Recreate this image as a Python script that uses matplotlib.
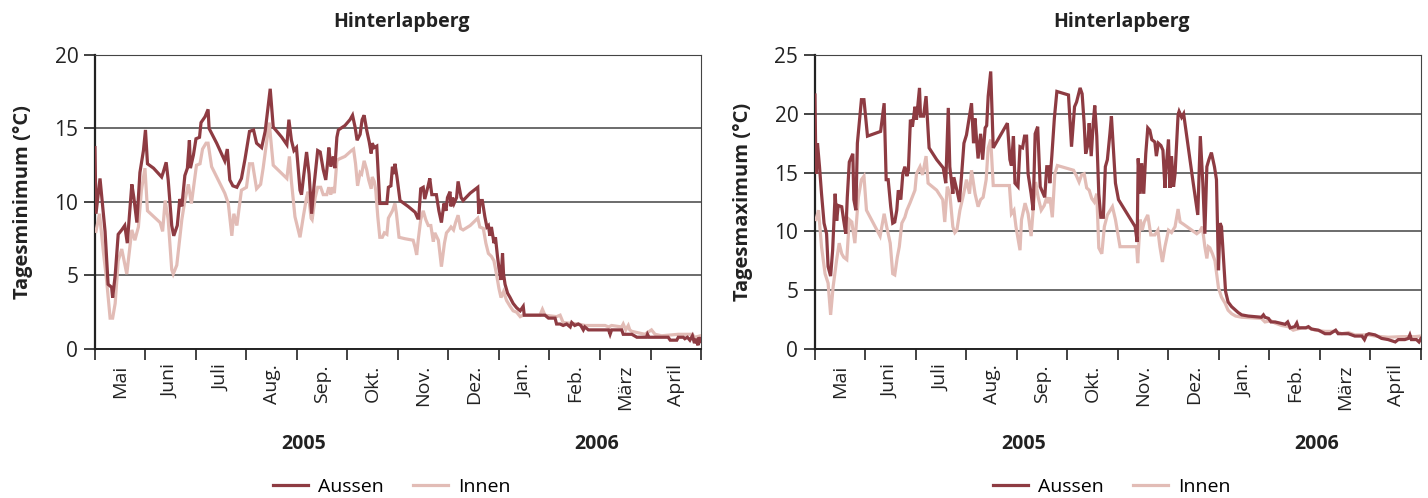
"""Daily minimum and maximum temperature, Hinterlapberg, May 2005 - April 2006."""

from __future__ import annotations

import matplotlib

matplotlib.use("Agg")
import matplotlib.pyplot as plt
from matplotlib.lines import Line2D

MONTH_LABELS = ["Mai", "Juni", "Juli", "Aug.", "Sep.", "Okt.", "Nov.", "Dez.",
                "Jan.", "Feb.", "März", "April"]
YEAR_LABELS = ["2005", "2006"]
SITE = "Hinterlapberg"
SERIES_NAMES = ["Aussen", "Innen"]

# (months since 1 May 2005, °C)
MIN_AUSSEN = [
    (0.00, 13.7), (0.02, 9.2), (0.10, 11.6), (0.20, 8.0), (0.26, 4.4), (0.33, 4.2),
    (0.35, 3.5), (0.40, 5.0), (0.46, 7.8), (0.53, 8.1), (0.59, 8.4), (0.64, 7.2),
    (0.73, 11.2), (0.77, 10.3), (0.83, 8.6), (0.89, 12.0), (0.96, 13.5), (1.00, 14.9),
    (1.04, 12.6), (1.16, 12.3), (1.32, 11.7), (1.35, 12.0), (1.41, 12.7), (1.45, 11.5),
    (1.52, 8.4), (1.56, 7.7), (1.63, 8.4), (1.68, 10.2), (1.72, 9.7), (1.78, 11.8),
    (1.83, 12.3), (1.87, 14.2), (1.89, 12.3), (1.95, 13.2), (2.00, 14.3), (2.07, 14.4),
    (2.10, 15.4), (2.18, 15.8), (2.24, 16.3), (2.26, 15.0), (2.41, 14.0), (2.57, 12.8),
    (2.62, 13.6), (2.67, 11.5), (2.73, 11.1), (2.81, 11.0), (2.90, 11.6), (2.97, 12.9),
    (3.06, 14.8), (3.14, 14.9), (3.20, 14.0), (3.30, 13.7), (3.37, 14.8), (3.47, 17.7),
    (3.53, 15.1), (3.70, 14.4), (3.80, 13.9), (3.84, 15.6), (3.89, 14.2), (3.94, 13.5),
    (3.99, 13.7), (4.06, 10.8), (4.09, 10.5), (4.13, 11.7), (4.19, 13.4), (4.24, 11.9),
    (4.29, 9.2), (4.34, 11.2), (4.41, 13.5), (4.46, 13.4), (4.52, 12.2), (4.57, 11.5),
    (4.61, 12.8), (4.63, 13.7), (4.67, 12.4), (4.72, 13.1), (4.75, 12.3), (4.79, 14.4),
    (4.82, 14.9), (4.95, 15.2), (5.05, 15.6), (5.10, 15.9), (5.15, 15.1), (5.19, 14.2),
    (5.25, 14.6), (5.29, 15.6), (5.33, 15.9), (5.38, 14.9), (5.43, 14.1), (5.47, 13.3),
    (5.49, 14.0), (5.53, 13.7), (5.58, 13.8), (5.61, 11.9), (5.64, 9.9), (5.78, 9.9),
    (5.81, 11.0), (5.86, 11.1), (5.89, 12.4), (5.92, 11.9), (5.94, 12.6), (5.98, 11.7),
    (6.04, 10.1), (6.20, 9.7), (6.34, 9.3), (6.39, 8.9), (6.41, 8.9), (6.45, 10.9),
    (6.50, 11.0), (6.53, 10.2), (6.59, 11.0), (6.63, 11.6), (6.67, 10.5), (6.72, 10.5),
    (6.76, 10.5), (6.81, 9.4), (6.86, 8.6), (6.91, 9.9), (6.95, 9.4), (6.98, 10.3),
    (7.03, 10.7), (7.05, 9.7), (7.08, 10.3), (7.11, 9.9), (7.16, 10.3), (7.19, 11.4),
    (7.25, 10.3), (7.29, 10.1), (7.43, 10.6), (7.58, 11.0), (7.60, 9.2), (7.63, 10.1),
    (7.67, 10.1), (7.72, 9.0), (7.76, 8.3), (7.79, 8.4), (7.82, 7.7), (7.85, 8.3),
    (7.90, 7.2), (7.93, 7.6), (7.97, 6.3), (8.00, 5.5), (8.04, 4.7), (8.07, 6.5),
    (8.09, 5.1), (8.12, 4.4), (8.17, 3.8), (8.22, 3.5), (8.28, 3.1), (8.35, 2.8),
    (8.42, 2.6), (8.48, 2.9), (8.50, 2.3), (8.55, 2.3), (8.91, 2.3), (8.98, 2.1),
    (9.11, 2.1), (9.14, 1.7), (9.21, 1.7), (9.27, 1.6), (9.34, 1.7), (9.41, 1.5),
    (9.44, 1.8), (9.50, 1.6), (9.57, 1.7), (9.62, 1.6), (9.67, 1.3), (9.70, 1.5),
    (9.77, 1.3), (10.17, 1.3), (10.20, 1.0), (10.23, 1.3), (10.43, 1.3), (10.46, 1.0),
    (10.63, 1.0), (10.73, 0.8), (10.92, 0.8), (10.94, 1.0), (10.97, 0.8), (11.35, 0.8),
    (11.39, 0.6), (11.52, 0.6), (11.55, 0.8), (11.65, 0.8), (11.68, 0.7), (11.73, 0.8),
    (11.78, 0.6), (11.83, 0.9), (11.87, 0.4), (11.90, 0.7), (11.94, 0.25), (11.96, 0.8),
    (11.99, 0.5),
]

MIN_INNEN = [
    (0.02, 8.0), (0.09, 9.2), (0.17, 6.5), (0.23, 4.7), (0.30, 2.1), (0.35, 2.1),
    (0.40, 3.1), (0.46, 6.0), (0.53, 6.8), (0.63, 5.1), (0.73, 8.1), (0.79, 7.4),
    (0.86, 8.3), (0.92, 10.8), (0.99, 12.3), (1.04, 9.4), (1.29, 8.6), (1.34, 8.0),
    (1.39, 10.1), (1.45, 8.8), (1.52, 5.4), (1.55, 5.1), (1.62, 5.7), (1.72, 8.8),
    (1.78, 10.1), (1.85, 11.2), (1.91, 9.9), (2.01, 12.5), (2.08, 12.6), (2.13, 13.6),
    (2.20, 14.0), (2.24, 14.0), (2.31, 12.4), (2.57, 10.6), (2.64, 9.9), (2.71, 7.7),
    (2.75, 9.2), (2.81, 8.4), (2.90, 10.8), (3.00, 11.0), (3.06, 12.6), (3.12, 12.6),
    (3.20, 10.9), (3.28, 11.2), (3.33, 12.3), (3.45, 15.4), (3.53, 12.5), (3.80, 11.6),
    (3.85, 13.1), (3.89, 11.4), (3.96, 9.0), (4.06, 7.6), (4.13, 9.1), (4.19, 10.3),
    (4.22, 10.7), (4.28, 8.9), (4.30, 8.8), (4.36, 10.3), (4.41, 11.0), (4.47, 11.0),
    (4.52, 10.5), (4.59, 10.5), (4.63, 11.0), (4.67, 10.5), (4.70, 11.0), (4.74, 10.6),
    (4.79, 12.8), (4.82, 12.9), (4.95, 13.1), (5.08, 13.5), (5.12, 13.6), (5.16, 12.6),
    (5.20, 11.1), (5.25, 12.0), (5.28, 11.9), (5.33, 12.8), (5.38, 12.2), (5.42, 11.5),
    (5.47, 10.9), (5.49, 11.7), (5.53, 11.4), (5.56, 10.8), (5.60, 9.0), (5.64, 7.6),
    (5.69, 7.6), (5.73, 7.9), (5.78, 7.8), (5.81, 8.9), (5.89, 9.4), (5.94, 9.9),
    (5.97, 9.2), (6.02, 7.6), (6.14, 7.5), (6.30, 7.4), (6.34, 6.9), (6.37, 6.4),
    (6.40, 7.4), (6.45, 8.8), (6.50, 9.4), (6.55, 8.8), (6.60, 8.4), (6.65, 8.4),
    (6.70, 7.3), (6.73, 7.9), (6.80, 7.4), (6.86, 5.6), (6.92, 7.2), (6.96, 7.9),
    (7.01, 8.1), (7.05, 8.3), (7.10, 8.1), (7.14, 8.6), (7.19, 9.1), (7.24, 8.2),
    (7.29, 8.1), (7.43, 8.4), (7.58, 8.9), (7.62, 8.3), (7.69, 8.2), (7.74, 7.2),
    (7.79, 6.5), (7.85, 6.3), (7.90, 6.0), (7.95, 5.1), (8.00, 4.1), (8.04, 3.5),
    (8.09, 3.9), (8.15, 3.3), (8.22, 2.9), (8.28, 2.6), (8.35, 2.5), (8.42, 2.2),
    (8.48, 2.3), (8.81, 2.3), (8.86, 2.7), (8.91, 2.3), (9.14, 2.2), (9.21, 2.3),
    (9.27, 1.8), (9.57, 1.7), (9.70, 1.6), (10.10, 1.6), (10.17, 1.5), (10.23, 1.6),
    (10.43, 1.5), (10.46, 1.7), (10.51, 1.3), (10.56, 1.6), (10.59, 1.3), (10.63, 1.2),
    (10.89, 1.0), (11.02, 1.3), (11.09, 1.0), (11.22, 0.9), (11.55, 1.0), (11.82, 1.0),
    (11.88, 0.8), (11.99, 0.9),
]

MAX_AUSSEN = [
    (0.00, 21.6), (0.02, 14.9), (0.05, 17.5), (0.09, 15.5), (0.13, 13.2), (0.18, 10.7),
    (0.23, 9.8), (0.26, 7.0), (0.31, 6.2), (0.35, 8.4), (0.40, 13.2), (0.43, 10.9),
    (0.46, 12.2), (0.53, 12.1), (0.57, 10.9), (0.61, 9.8), (0.64, 12.9), (0.68, 15.9),
    (0.75, 16.6), (0.77, 12.7), (0.81, 11.8), (0.84, 17.5), (0.92, 21.2), (0.97, 21.2),
    (1.04, 18.1), (1.30, 18.5), (1.37, 20.9), (1.41, 14.4), (1.45, 14.4), (1.50, 12.1),
    (1.54, 10.7), (1.58, 10.8), (1.62, 11.8), (1.65, 13.5), (1.70, 12.7), (1.74, 14.9),
    (1.78, 15.5), (1.82, 14.7), (1.85, 15.2), (1.89, 19.5), (1.93, 18.9), (1.98, 20.6),
    (2.01, 19.5), (2.07, 22.2), (2.09, 19.8), (2.15, 19.8), (2.20, 21.5), (2.26, 17.1),
    (2.41, 16.1), (2.54, 15.4), (2.59, 14.1), (2.64, 20.5), (2.67, 15.5), (2.73, 13.2),
    (2.75, 14.6), (2.81, 13.5), (2.86, 12.5), (2.90, 14.6), (2.95, 17.5), (3.00, 18.2),
    (3.06, 19.8), (3.10, 20.9), (3.14, 17.5), (3.17, 19.6), (3.20, 17.8), (3.23, 16.2),
    (3.28, 18.3), (3.32, 16.1), (3.37, 18.8), (3.40, 19.0), (3.43, 21.5), (3.48, 23.6),
    (3.53, 17.1), (3.81, 19.2), (3.86, 16.1), (3.89, 15.6), (3.93, 18.1), (3.96, 14.1),
    (4.02, 13.8), (4.06, 17.2), (4.11, 17.1), (4.15, 18.1), (4.19, 18.1), (4.22, 14.9),
    (4.28, 13.2), (4.32, 11.8), (4.36, 18.3), (4.41, 18.9), (4.46, 13.8), (4.50, 13.4),
    (4.55, 12.9), (4.59, 15.5), (4.63, 15.5), (4.65, 14.1), (4.69, 16.4), (4.74, 19.6),
    (4.79, 21.9), (5.02, 21.6), (5.08, 17.2), (5.14, 20.6), (5.18, 21.0), (5.25, 22.2),
    (5.29, 21.7), (5.33, 19.2), (5.36, 16.6), (5.40, 17.3), (5.43, 19.2), (5.47, 16.4),
    (5.51, 19.2), (5.54, 20.7), (5.58, 18.1), (5.62, 13.2), (5.66, 11.2), (5.71, 11.2),
    (5.75, 15.5), (5.79, 16.1), (5.84, 18.3), (5.87, 19.8), (5.91, 16.9), (5.95, 14.1),
    (6.01, 12.7), (6.34, 10.4), (6.38, 9.1), (6.40, 16.2), (6.44, 13.2), (6.47, 15.8),
    (6.51, 13.2), (6.55, 16.6), (6.59, 18.8), (6.63, 18.6), (6.67, 17.8), (6.73, 17.6),
    (6.76, 16.4), (6.80, 17.5), (6.85, 17.3), (6.89, 16.9), (6.93, 13.7), (6.96, 15.8),
    (7.00, 17.8), (7.03, 13.7), (7.06, 16.4), (7.10, 13.8), (7.13, 14.9), (7.19, 19.9),
    (7.21, 20.2), (7.26, 19.7), (7.30, 20.0), (7.39, 17.2), (7.49, 14.1), (7.58, 11.4),
    (7.63, 18.1), (7.68, 14.1), (7.72, 9.8), (7.76, 15.5), (7.80, 16.1), (7.85, 16.7),
    (7.91, 15.5), (7.95, 14.4), (7.99, 6.7), (8.02, 10.7), (8.05, 10.4), (8.09, 7.6),
    (8.13, 4.9), (8.18, 4.0), (8.25, 3.6), (8.33, 3.3), (8.38, 3.1), (8.45, 2.9),
    (8.58, 2.8), (8.84, 2.7), (8.88, 2.9), (8.91, 2.7), (8.98, 2.6), (9.03, 2.3),
    (9.11, 2.3), (9.21, 2.2), (9.31, 2.1), (9.36, 2.3), (9.41, 1.8), (9.50, 1.9),
    (9.54, 2.2), (9.57, 1.8), (9.67, 1.8), (9.72, 1.8), (9.77, 1.9), (9.83, 1.7),
    (9.97, 1.6), (10.10, 1.3), (10.20, 1.3), (10.31, 1.6), (10.36, 1.3), (10.56, 1.3),
    (10.69, 1.1), (10.83, 1.1), (10.88, 0.8), (10.92, 1.2), (10.97, 1.3), (11.09, 1.2),
    (11.22, 0.9), (11.35, 0.8), (11.49, 0.6), (11.55, 0.8), (11.68, 0.8), (11.75, 0.9),
    (11.78, 1.2), (11.81, 0.8), (11.91, 0.8), (11.96, 0.6), (12.00, 0.9),
]

MAX_INNEN = [
    (0.02, 11.0), (0.07, 11.8), (0.13, 8.7), (0.20, 6.4), (0.26, 5.6), (0.31, 2.9),
    (0.36, 5.3), (0.43, 7.6), (0.48, 9.0), (0.53, 8.1), (0.57, 7.8), (0.63, 7.6),
    (0.68, 11.0), (0.73, 10.8), (0.79, 9.0), (0.86, 12.9), (0.92, 14.4), (0.97, 14.7),
    (1.02, 11.8), (1.29, 9.6), (1.37, 11.5), (1.42, 10.4), (1.49, 9.0), (1.54, 6.4),
    (1.58, 6.3), (1.63, 7.8), (1.67, 8.7), (1.72, 10.7), (1.78, 11.2), (1.82, 11.8),
    (1.88, 12.4), (1.98, 13.5), (2.01, 14.9), (2.08, 15.5), (2.13, 14.8), (2.20, 16.4),
    (2.24, 14.1), (2.41, 13.5), (2.53, 12.7), (2.57, 10.8), (2.62, 13.8), (2.67, 13.2),
    (2.73, 10.4), (2.77, 9.9), (2.81, 10.1), (2.87, 11.8), (2.94, 13.1), (3.00, 14.4),
    (3.06, 13.2), (3.10, 15.2), (3.17, 13.2), (3.23, 12.1), (3.28, 12.7), (3.33, 12.9),
    (3.39, 14.4), (3.43, 17.1), (3.48, 17.8), (3.53, 13.9), (3.85, 13.9), (3.89, 11.5),
    (3.94, 11.8), (3.98, 10.4), (4.06, 8.4), (4.09, 11.0), (4.16, 12.4), (4.22, 11.5),
    (4.28, 9.6), (4.32, 11.8), (4.37, 14.2), (4.42, 12.9), (4.48, 11.8), (4.54, 12.2),
    (4.59, 12.9), (4.62, 12.4), (4.65, 12.9), (4.70, 11.2), (4.75, 14.9), (4.80, 15.6),
    (5.12, 15.2), (5.18, 14.7), (5.23, 14.2), (5.28, 14.8), (5.33, 14.9), (5.38, 13.7),
    (5.43, 13.5), (5.48, 12.8), (5.53, 12.5), (5.58, 13.2), (5.62, 8.6), (5.68, 8.1),
    (5.73, 10.4), (5.79, 11.4), (5.89, 12.1), (5.95, 11.0), (6.04, 8.7), (6.37, 8.7),
    (6.39, 7.3), (6.44, 11.0), (6.48, 10.1), (6.52, 10.8), (6.59, 11.4), (6.65, 9.7),
    (6.73, 9.7), (6.79, 10.1), (6.83, 8.7), (6.88, 7.4), (6.93, 8.7), (7.00, 10.1),
    (7.06, 9.9), (7.13, 10.4), (7.19, 11.9), (7.23, 10.8), (7.30, 10.6), (7.43, 10.2),
    (7.56, 9.8), (7.62, 10.0), (7.67, 10.4), (7.72, 8.7), (7.76, 7.7), (7.79, 8.7),
    (7.82, 8.6), (7.87, 8.1), (7.92, 7.5), (7.99, 5.2), (8.05, 4.4), (8.12, 3.9),
    (8.18, 3.3), (8.25, 3.0), (8.33, 2.8), (8.45, 2.7), (8.84, 2.6), (8.91, 2.3),
    (9.03, 2.4), (9.11, 2.2), (9.24, 2.0), (9.37, 1.9), (9.47, 1.6), (9.64, 1.8),
    (9.77, 1.8), (9.90, 1.6), (10.10, 1.5), (10.30, 1.5), (10.43, 1.3), (10.56, 1.4),
    (10.69, 1.2), (10.83, 1.2), (10.96, 1.2), (11.09, 1.1), (11.35, 1.0), (11.62, 1.05),
    (11.88, 1.05), (12.00, 1.1),
]

COLOR_AUSSEN = "#8e3b42"
COLOR_INNEN = "#e2bcb6"
TEXT_FONT = ["Open Sans", "DejaVu Sans"]
NARROW_FONT = ["Liberation Sans Narrow", "Open Sans", "DejaVu Sans"]


def draw_panel(axis, aussen, innen, ylabel: str, ymax: int) -> None:
    """Draw one panel with the outdoor and indoor series."""
    for series, color, zorder in ((innen, COLOR_INNEN, 3), (aussen, COLOR_AUSSEN, 4)):
        months, values = zip(*series)
        axis.plot(months, values, color=color, linewidth=2.3, zorder=zorder,
                  solid_joinstyle="miter")

    axis.set_xlim(0, 12)
    axis.set_ylim(0, ymax)
    axis.set_yticks(range(0, ymax + 1, 5))
    axis.yaxis.grid(True, color="#444444", linewidth=1.1)
    axis.set_axisbelow(True)

    axis.set_xticks(range(13))
    axis.set_xticklabels([])
    axis.set_xticks([m + 0.5 for m in range(12)], minor=True)
    axis.set_xticklabels(MONTH_LABELS, minor=True, rotation=90, va="top",
                         fontsize=14, family=TEXT_FONT, color="#222222")
    axis.tick_params(axis="x", which="major", length=8, width=1.2, color="#222222")
    axis.tick_params(axis="x", which="minor", length=0, pad=11)
    axis.tick_params(axis="y", length=8, width=1.2, color="#222222", pad=4,
                     labelsize=15, labelcolor="#222222")
    for label in axis.get_yticklabels():
        label.set_family(TEXT_FONT)

    axis.spines["left"].set_linewidth(1.6)
    axis.spines["left"].set_color("#222222")
    axis.spines["bottom"].set_linewidth(1.4)
    axis.spines["bottom"].set_color("#222222")
    axis.spines["top"].set_color("#444444")
    axis.spines["right"].set_color("#444444")

    axis.set_ylabel(ylabel, fontsize=14.5, fontweight="bold", family=TEXT_FONT,
                    color="#222222")
    axis.yaxis.set_label_coords(-0.102, 0.5)
    axis.text(0.505, 1.112, SITE, transform=axis.transAxes, ha="center",
              va="center", fontsize=14, fontweight="bold", family=TEXT_FONT,
              color="#222222")

    for label, xpos in zip(YEAR_LABELS, (0.345, 0.828)):
        axis.text(xpos, -0.323, label, transform=axis.transAxes, ha="center",
                  va="center", fontsize=14, fontweight="bold", family=NARROW_FONT,
                  color="#222222")

    handles = [Line2D([], [], color=COLOR_AUSSEN, linewidth=2.3),
               Line2D([], [], color=COLOR_INNEN, linewidth=2.3)]
    axis.legend(handles, SERIES_NAMES, loc="center", bbox_to_anchor=(0.49, -0.468),
                ncol=2, frameon=False, handlelength=1.8, handletextpad=0.5,
                columnspacing=1.5, prop={"family": NARROW_FONT, "size": 14})


def main() -> None:
    figure = plt.figure(figsize=(14.28, 4.98), dpi=100)
    left_axis = figure.add_axes([0.0665, 0.2992, 0.4244, 0.5904])
    right_axis = figure.add_axes([0.5707, 0.2992, 0.4244, 0.5904])

    draw_panel(left_axis, MIN_AUSSEN, MIN_INNEN, "Tagesminimum (°C)", 20)
    draw_panel(right_axis, MAX_AUSSEN, MAX_INNEN, "Tagesmaximum (°C)", 25)

    figure.savefig("out.png", dpi=100)
    plt.close(figure)


if __name__ == "__main__":
    main()
